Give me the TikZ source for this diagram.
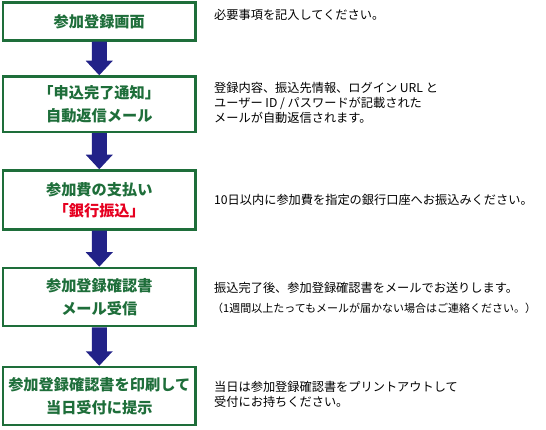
\documentclass[tikz,border=0pt]{standalone}
\usepackage{fontspec}
\setmainfont{Noto Sans CJK JP}
\usetikzlibrary{calc}
\definecolor{boxgreen}{HTML}{1E6E3A}
\definecolor{arrownavy}{HTML}{222288}
\definecolor{redtext}{HTML}{E60020}
\tikzset{
  stepbox/.style={draw=boxgreen, line width=2.5pt, minimum width=192.5pt, align=center,
    text=boxgreen, font=\fontsize{15.2}{22.5}\selectfont\bfseries, inner sep=0pt},
  note/.style={anchor=west, align=left, inner sep=0pt, font=\fontsize{12.2}{15}\selectfont},
}
\newcommand{\flowarrow}[2]{%
  \fill[arrownavy] ($(#1.south)+(-7.5pt,0)$) -- ($(#2.north)+(-7.5pt,14.5pt)$) -- ($(#2.north)+(-13.5pt,14.5pt)$)
    -- (#2.north) -- ($(#2.north)+(13.5pt,14.5pt)$) -- ($(#2.north)+(7.5pt,14.5pt)$) -- ($(#1.south)+(7.5pt,0)$) -- cycle;}
\begin{document}
\begin{tikzpicture}[x=1pt,y=-1pt]
\useasboundingbox (0,0) rectangle (546,430);
\node[stepbox, minimum height=38pt] (b1) at (99.25,21.5) {参加登録画面};
\node[stepbox, minimum height=55.5pt] (b2) at (99.25,104.25) {「申込完了通知」\\自動返信メール};
\node[stepbox, minimum height=59pt, font=\fontsize{15.2}{20.5}\selectfont\bfseries] (b3) at (99.25,200) {参加費の支払い\\\textcolor{redtext}{「銀行振込」}};
\node[stepbox, minimum height=58pt] (b4) at (99.25,297) {参加登録確認書\\メール受信};
\node[stepbox, minimum height=58pt] (b5) at (99.25,396) {参加登録確認書を印刷して\\当日受付に提示};
\flowarrow{b1}{b2}
\flowarrow{b2}{b3}
\flowarrow{b3}{b4}
\flowarrow{b4}{b5}
\node[note] (n1) at (214,15) {必要事項を記入してください。};
\node[note] (n2) at (214,103) {登録内容、振込先情報、ログイン URL と\\ユーザー ID / パスワードが記載された\\メールが自動返信されます。};
\node[note] (n3) at (214,200) {10日以内に参加費を指定の銀行口座へお振込みください。};
\node[note] (n4) at (214,288) {振込完了後、参加登録確認書をメールでお送りします。};
\node[note, font=\fontsize{11}{14}\selectfont] (n5) at (212,308) {（1週間以上たってもメールが届かない場合はご連絡ください。）};
\node[note] (n6) at (214,394) {当日は参加登録確認書をプリントアウトして\\受付にお持ちください。};
\end{tikzpicture}
\end{document}
